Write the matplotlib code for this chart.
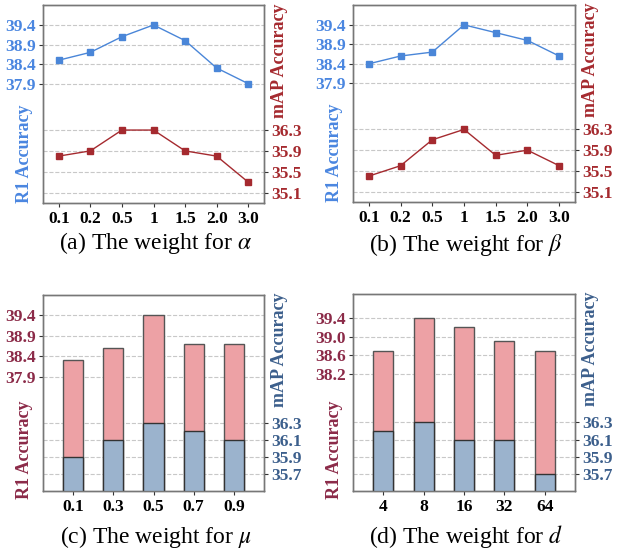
import matplotlib
matplotlib.use('Agg')
import matplotlib.pyplot as plt
import numpy as np

plt.rcParams['font.family'] = ['Liberation Serif', 'DejaVu Serif']
plt.rcParams['mathtext.fontset'] = 'stix'

# data
ab_labels = ['0.1', '0.2', '0.5', '1', '1.5', '2.0', '3.0']
alpha_r1 = [38.5, 38.7, 39.1, 39.4, 39.0, 38.3, 37.9]
alpha_map = [35.8, 35.9, 36.3, 36.3, 35.9, 35.8, 35.3]
beta_r1 = [38.4, 38.6, 38.7, 39.4, 39.2, 39.0, 38.6]
beta_map = [35.4, 35.6, 36.1, 36.3, 35.8, 35.9, 35.6]

mu_labels = ['0.1', '0.3', '0.5', '0.7', '0.9']
mu_r1 = [38.3, 38.6, 39.4, 38.7, 38.7]
mu_map = [35.9, 36.1, 36.3, 36.2, 36.1]
d_labels = ['4', '8', '16', '32', '64']
d_r1 = [38.7, 39.4, 39.2, 38.9, 38.7]
d_map = [36.2, 36.3, 36.1, 36.1, 35.7]

r1_ticks_line = [37.9, 38.4, 38.9, 39.4]
map_ticks_line = [35.1, 35.5, 35.9, 36.3]
r1_ticks_mu = [37.9, 38.4, 38.9, 39.4]
r1_ticks_d = [38.2, 38.6, 39.0, 39.4]
map_ticks_bar = [35.7, 35.9, 36.1, 36.3]

W, H = 623, 550
fig = plt.figure(figsize=(W / 100, H / 100), dpi=100)


def box(l, r, t, b):
    return [l / W, 1 - b / H, (r - l) / W, (b - t) / H]


def style(ax, ax2, lcol, rcol, lticks, rticks, xlabels):
    for a in (ax, ax2):
        for s in a.spines.values():
            s.set_color('#777777')
            s.set_linewidth(1.0)
    ax.set_yticks(lticks)
    ax.set_yticklabels([f'{v:.1f}' for v in lticks])
    ax2.set_yticks(rticks)
    ax2.set_yticklabels([f'{v:.1f}' for v in rticks])
    ax.set_xticks(range(len(xlabels)))
    ax.set_xticklabels(xlabels)
    ax.tick_params(axis='y', colors='#333333', labelcolor=lcol, labelsize=12.5, length=3, pad=2)
    ax2.tick_params(axis='y', colors='#333333', labelcolor=rcol, labelsize=12.5, length=3, pad=2)
    ax.tick_params(axis='x', colors='#333333', labelcolor='black', labelsize=12.5, length=3, pad=3)
    for lab in ax.get_yticklabels() + ax2.get_yticklabels() + ax.get_xticklabels():
        lab.set_fontweight('bold')
    # dashed grid for both scales, kept behind the marks
    lo, hi = ax.get_ylim()
    for v in lticks:
        f = (v - lo) / (hi - lo)
        ax.plot([0, 1], [f, f], transform=ax.transAxes, ls='--', lw=0.8, color='#c8c8c8', zorder=0)
    lo2, hi2 = ax2.get_ylim()
    for v in rticks:
        f = (v - lo2) / (hi2 - lo2)
        ax.plot([0, 1], [f, f], transform=ax.transAxes, ls='--', lw=0.8, color='#c8c8c8', zorder=0)
    ax.set_ylabel('R1 Accuracy', color=lcol, fontsize=13, fontweight='bold')
    ax2.set_ylabel('mAP Accuracy', color=rcol, fontsize=13, fontweight='bold')


def line_panel(rect, r1, mp, caption, cx, cy):
    ax = fig.add_axes(rect)
    ax2 = ax.twinx()
    x = np.arange(len(ab_labels))
    ax.set_xlim(-0.5, 6.5)
    ax.set_ylim(34.85, 39.91)
    ax2.set_ylim(34.9, 38.7)
    ax.plot(x, r1, color='#4a86d8', lw=1.0, marker='s', ms=4, zorder=3)
    ax2.plot(x, mp, color='#a52a2f', lw=1.0, marker='s', ms=4, zorder=3)
    style(ax, ax2, '#4a86e0', '#a52a2f', r1_ticks_line, map_ticks_line, ab_labels)
    ax.yaxis.set_label_coords(-0.045, 0.25)
    ax2.yaxis.set_label_coords(1.03, 0.72)
    fig.text(cx / W, 1 - cy / H, caption, ha='center', va='center', fontsize=17)


def bar_panel(rect, r1, mp, labels, lticks, r1lim, caption, cx, cy):
    ax = fig.add_axes(rect)
    ax2 = ax.twinx()
    x = np.arange(len(labels))
    ax.set_xlim(-0.75, 4.75)
    ax.set_ylim(*r1lim)
    ax2.set_ylim(35.5, 37.8)
    ax.bar(x, r1, width=0.5, color='#eda1a5', edgecolor='#555555', lw=1.0, zorder=2)
    ax2.bar(x, mp, width=0.5, color='#9bb3cd', edgecolor='#333333', lw=1.0, zorder=2)
    style(ax, ax2, '#8b2a48', '#3c5f8c', lticks, map_ticks_bar, labels)
    ax.yaxis.set_label_coords(-0.045, 0.21)
    ax2.yaxis.set_label_coords(1.03, 0.72)
    fig.text(cx / W, 1 - cy / H, caption, ha='center', va='center', fontsize=17)


line_panel(box(43, 264, 5, 203), alpha_r1, alpha_map, r'(a) The weight for $\alpha$', 156, 243)
line_panel(box(353, 575, 5, 202), beta_r1, beta_map, r'(b) The weight for $\beta$', 466, 245)
bar_panel(box(43, 264, 295, 491), mu_r1, mu_map, mu_labels, r1_ticks_mu, (35.12, 39.89),
          r'(c) The weight for $\mu$', 156, 537)
bar_panel(box(353, 575, 294, 491), d_r1, d_map, d_labels, r1_ticks_d, (35.73, 39.9),
          r'(d) The weight for $d$', 466, 537)

fig.savefig('out.png', dpi=100)
